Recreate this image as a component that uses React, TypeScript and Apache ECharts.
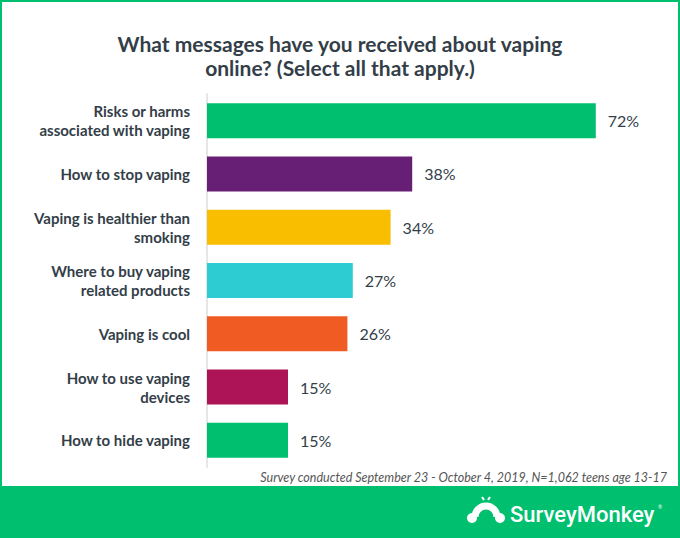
import React, { useEffect, useRef } from "react";
import * as echarts from "echarts";

const categories = [
  "Risks or harms\nassociated with vaping",
  "How to stop vaping",
  "Vaping is healthier than\nsmoking",
  "Where to buy vaping\nrelated products",
  "Vaping is cool",
  "How to use vaping\ndevices",
  "How to hide vaping",
];
const values = [72, 38, 34, 27, 26, 15, 15];
const barColors = ["#00BF6F", "#671E75", "#F9BE00", "#2DCCD3", "#F05B24", "#AC1457", "#00BF6F"];
const titleText = "What messages have you received about vaping\nonline? (Select all that apply.)";
const footnote = "Survey conducted September 23 - October 4, 2019, N=1,062 teens age 13-17";

export default function App() {
  const ref = useRef<HTMLDivElement>(null);
  useEffect(() => {
    if (!ref.current) return;
    const chart = echarts.init(ref.current, null, { renderer: "svg" });
    const font = "Lato, Roboto, sans-serif";
    chart.setOption({
      animation: false,
      backgroundColor: "#ffffff",
      title: {
        text: titleText,
        left: "center",
        top: 26,
        textStyle: {
          fontFamily: font,
          fontSize: 21,
          fontWeight: "bold",
          color: "#333E48",
          lineHeight: 24,
        },
      },
      grid: { left: 207, top: 94, bottom: 71, right: 41 },
      xAxis: {
        type: "value",
        min: 0,
        max: 80,
        show: false,
      },
      yAxis: {
        type: "category",
        data: categories,
        inverse: true,
        axisLine: { show: true, lineStyle: { color: "#E6E6E6", width: 2 } },
        axisTick: { show: false },
        axisLabel: {
          margin: 17,
          fontFamily: font,
          fontSize: 15,
          fontWeight: "bold",
          color: "#333E48",
          lineHeight: 19,
          align: "right",
        },
      },
      series: [
        {
          type: "bar",
          barWidth: 35,
          data: values.map((v, i) => ({ value: v, itemStyle: { color: barColors[i] } })),
          label: {
            show: true,
            position: "right",
            distance: 12,
            formatter: "{c}%",
            fontFamily: font,
            fontSize: 16,
            color: "#333E48",
          },
        },
      ],
      graphic: [
        {
          type: "rect",
          shape: { x: 1, y: 1, width: 678, height: 536 },
          style: { fill: "none", stroke: "#00BF6F", lineWidth: 2 },
          z: 10,
        },
        {
          type: "text",
          x: 667,
          y: 477,
          style: {
            text: footnote,
            fontFamily: font,
            fontSize: 12.5,
            fontStyle: "italic",
            fill: "#555555",
            align: "right",
            verticalAlign: "middle",
          },
        },
        {
          type: "rect",
          shape: { x: 0, y: 486, width: 680, height: 52 },
          style: { fill: "#00BF6F" },
          z: 11,
        },
        {
          type: "arc",
          shape: { cx: 486, cy: 517, r: 11, startAngle: Math.PI, endAngle: 2 * Math.PI },
          style: { stroke: "#ffffff", lineWidth: 7, fill: "none" },
          z: 12,
        },
        {
          type: "circle",
          shape: { cx: 472, cy: 518, r: 5 },
          style: { fill: "#ffffff" },
          z: 12,
        },
        {
          type: "circle",
          shape: { cx: 500, cy: 518, r: 5 },
          style: { fill: "#ffffff" },
          z: 12,
        },
        {
          type: "line",
          shape: { x1: 484, y1: 500, x2: 482, y2: 497 },
          style: { stroke: "#ffffff", lineWidth: 2 },
          z: 12,
        },
        {
          type: "line",
          shape: { x1: 488, y1: 500, x2: 490, y2: 497 },
          style: { stroke: "#ffffff", lineWidth: 2 },
          z: 12,
        },
        {
          type: "text",
          x: 510,
          y: 514,
          style: {
            text: "SurveyMonkey",
            fontFamily: "Roboto, sans-serif",
            fontSize: 22,
            fontWeight: 500,
            fill: "#ffffff",
            verticalAlign: "middle",
          },
          z: 12,
        },
        {
          type: "text",
          x: 658,
          y: 507,
          style: { text: "®", fontFamily: font, fontSize: 5, fill: "#ffffff", verticalAlign: "middle" },
          z: 12,
        },
      ],
    });
    return () => chart.dispose();
  }, []);
  return (
    <div
      ref={ref}
      style={{ position: "fixed", left: 0, top: 0, width: 680, height: 538 }}
    />
  );
}
